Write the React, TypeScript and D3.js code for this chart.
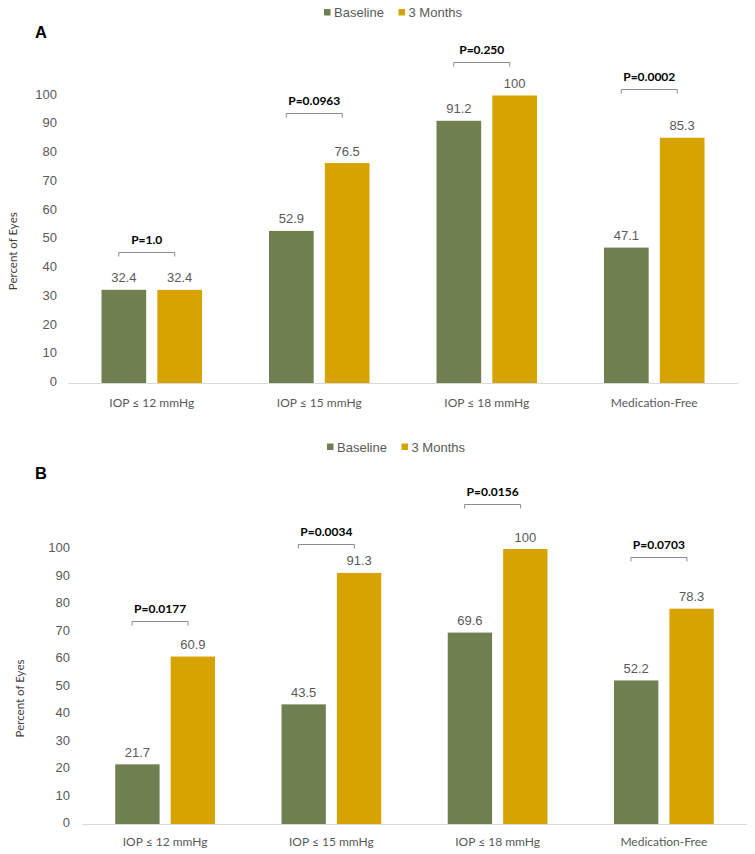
import React from "react";
import * as d3 from "d3";

const categories = ["IOP ≤ 12 mmHg", "IOP ≤ 15 mmHg", "IOP ≤ 18 mmHg", "Medication-Free"];
const seriesNames = ["Baseline", "3 Months"];
const baselineA = [32.4, 52.9, 91.2, 47.1];
const monthsA = [32.4, 76.5, 100, 85.3];
const pValuesA = ["P=1.0", "P=0.0963", "P=0.250", "P=0.0002"];
const bracketLevelA = [45.4, 94, 111.5, 102.3];
const baselineB = [21.7, 43.5, 69.6, 52.2];
const monthsB = [60.9, 91.3, 100, 78.3];
const pValuesB = ["P=0.0177", "P=0.0034", "P=0.0156", "P=0.0703"];
const bracketLevelB = [73.8, 102, 116.3, 97];
const yTicks = [0, 10, 20, 30, 40, 50, 60, 70, 80, 90, 100];

const COLORS = ["#6F7F50", "#D7A300"];
const GRAY = "#595959";
const ARIAL = "'Liberation Sans', Arial, sans-serif";
const CALIBRI = "Lato, 'Open Sans', sans-serif";

type PanelProps = {
  letter: string;
  base: number[];
  months: number[];
  pvals: string[];
  brackets: number[];
  x0: number;
  x1: number;
  yZero: number;
  yHundred: number;
  legendY: number;
  letterY: number;
  xLabelY: number;
  yTitleX: number;
  tickRight: number;
  legendX: number;
};

function Panel(p: PanelProps) {
  const y = d3.scaleLinear().domain([0, 100]).range([p.yZero, p.yHundred]);
  const x = d3.scaleBand<string>().domain(categories).range([p.x0, p.x1]).paddingInner(0).paddingOuter(0);
  const inner = d3
    .scaleBand<string>()
    .domain(seriesNames)
    .range([0, x.bandwidth()])
    .paddingInner(0.2)
    .paddingOuter(0.6);
  const series = [p.base, p.months];
  const yMid = (p.yZero + p.yHundred) / 2 + 12;
  const bracketW = 56;
  return (
    <g>
      {/* legend */}
      {seriesNames.map((s, i) => {
        const lx = p.legendX + i * 74.5;
        return (
          <g key={s}>
            <rect x={lx} y={p.legendY - 3.5} width={6.5} height={6.5} fill={COLORS[i]} />
            <text x={lx + 10} y={p.legendY} dy="0.35em" fontFamily={ARIAL} fontSize={13} fill={GRAY}>
              {s}
            </text>
          </g>
        );
      })}
      {/* panel letter */}
      <text x={35} y={p.letterY} dy="0.36em" fontFamily={ARIAL} fontWeight="bold" fontSize={16.5} fill="#000">
        {p.letter}
      </text>
      {/* y tick labels */}
      {yTicks.map((t) => (
        <text
          key={t}
          x={p.tickRight}
          y={y(t) - 1.5}
          dy="0.35em"
          textAnchor="end"
          fontFamily={ARIAL}
          fontSize={13}
          fill={GRAY}
        >
          {t}
        </text>
      ))}
      {/* y title */}
      <text
        transform={`translate(${p.yTitleX},${yMid}) rotate(-90)`}
        textAnchor="middle"
        dy="0.35em"
        fontFamily={CALIBRI}
        fontSize={11.5}
        fill="#404040"
      >
        Percent of Eyes
      </text>
      {/* bars */}
      {categories.map((c, ci) => (
        <g key={c} transform={`translate(${x(c)},0)`}>
          {seriesNames.map((s, si) => {
            const v = series[si][ci];
            const bx = inner(s)!;
            return (
              <g key={s}>
                <rect x={bx} y={y(v)} width={inner.bandwidth()} height={y(0) - y(v)} fill={COLORS[si]} />
                <text
                  x={bx + inner.bandwidth() / 2}
                  y={y(v) - 12}
                  dy="0.35em"
                  textAnchor="middle"
                  fontFamily={ARIAL}
                  fontSize={13}
                  fill={GRAY}
                >
                  {v}
                </text>
              </g>
            );
          })}
        </g>
      ))}
      {/* axis line */}
      <line x1={p.x0} x2={p.x1} y1={y(0) + 0.5} y2={y(0) + 0.5} stroke="#D9D9D9" strokeWidth={1} />
      {/* x labels */}
      {categories.map((c) => (
        <text
          key={c}
          x={x(c)! + x.bandwidth() / 2}
          y={p.xLabelY}
          dy="0.35em"
          textAnchor="middle"
          fontFamily={CALIBRI}
          fontSize={12}
          fill={GRAY}
        >
          {c}
        </text>
      ))}
      {/* brackets */}
      {categories.map((c, ci) => {
        const cx = x(c)! + x.bandwidth() / 2 - 5;
        const by = Math.round(y(p.brackets[ci])) + 0.5;
        return (
          <g key={c}>
            <path
              d={`M${cx - bracketW / 2},${by + 4}V${by}H${cx + bracketW / 2}V${by + 4}`}
              fill="none"
              stroke="#8C8C8C"
              strokeWidth={1}
            />
            <text
              x={cx}
              y={by - 13}
              dy="0.35em"
              textAnchor="middle"
              fontFamily={CALIBRI}
              fontWeight="bold"
              fontSize={12}
              fill="#000"
            >
              {p.pvals[ci]}
            </text>
          </g>
        );
      })}
    </g>
  );
}

export default function App() {
  return (
    <svg
      width={755}
      height={854}
      viewBox="0 0 755 854"
      style={{ position: "absolute", left: 0, top: 0, background: "#fff" }}
    >
      <rect width={755} height={854} fill="#fff" />
      <Panel
        letter="A"
        base={baselineA}
        months={monthsA}
        pvals={pValuesA}
        brackets={bracketLevelA}
        x0={68}
        x1={738}
        yZero={383}
        yHundred={95.5}
        legendY={12.5}
        letterY={32.5}
        xLabelY={403}
        yTitleX={13}
        tickRight={57}
        legendX={324}
      />
      <Panel
        letter="B"
        base={baselineB}
        months={monthsB}
        pvals={pValuesB}
        brackets={bracketLevelB}
        x0={82}
        x1={747}
        yZero={824}
        yHundred={549}
        legendY={447}
        letterY={473.5}
        xLabelY={842}
        yTitleX={20}
        tickRight={70}
        legendX={327}
      />
    </svg>
  );
}
